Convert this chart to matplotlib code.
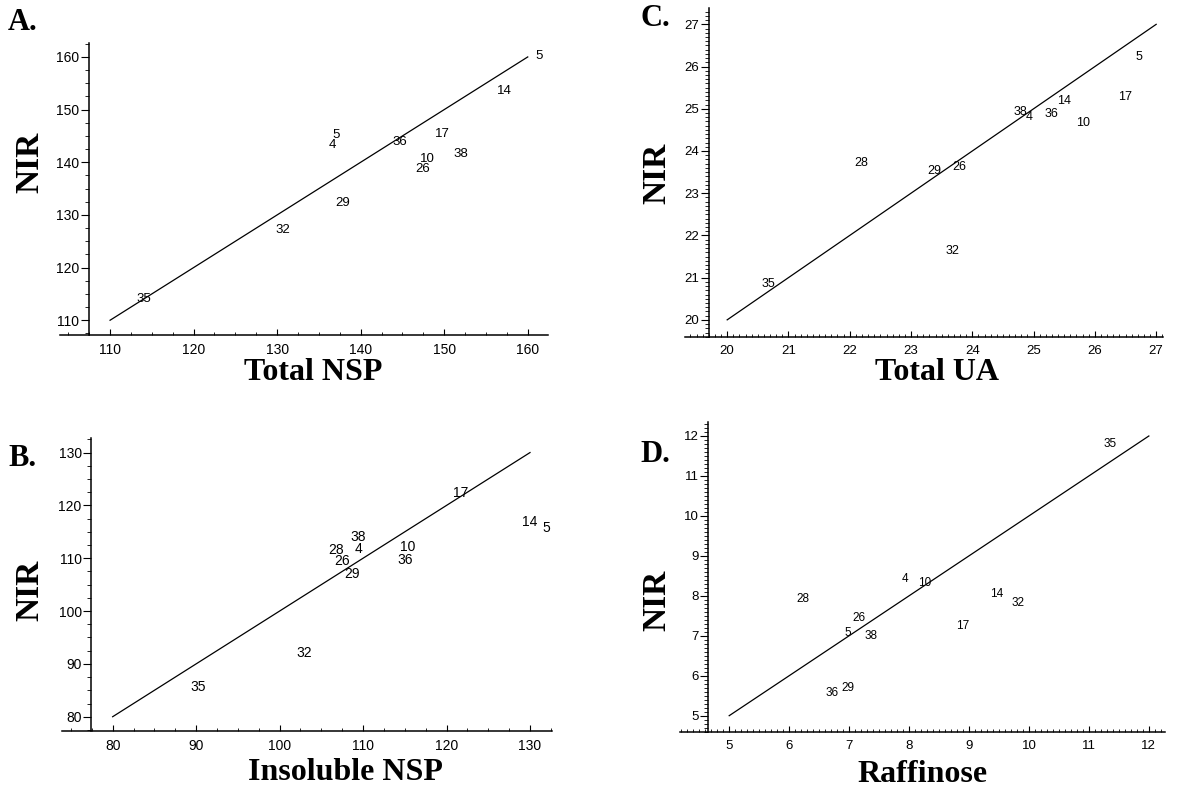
import matplotlib.pyplot as plt
from matplotlib.ticker import AutoMinorLocator, MultipleLocator

SERIF = ["Liberation Serif", "DejaVu Serif"]
SANS = ["Liberation Sans", "DejaVu Sans"]

# Panel A: Total NSP vs NIR
a_labels = ["5", "14", "5", "4", "36", "17", "38", "10", "26", "29", "32", "35"]
a_x = [161.4, 157.2, 137.0, 136.6, 144.7, 149.8, 152.0, 148.0, 147.4, 137.9, 130.7, 114.0]
a_y = [160.2, 153.5, 145.1, 143.2, 143.9, 145.4, 141.6, 140.7, 138.8, 132.2, 127.1, 114.0]

# Panel B: Insoluble NSP vs NIR
b_labels = ["17", "14", "5", "38", "4", "28", "26", "29", "10", "36", "32", "35"]
b_x = [121.7, 130.0, 132.0, 109.4, 109.4, 106.8, 107.5, 108.7, 115.4, 115.0, 103.0, 90.3]
b_y = [122.3, 116.9, 115.7, 114.0, 111.7, 111.6, 109.4, 107.1, 112.1, 109.7, 92.0, 85.7]

# Panel C: Total UA vs NIR
c_labels = ["5", "17", "14", "38", "4", "36", "10", "28", "29", "26", "32", "35"]
c_x = [26.72, 26.49, 25.49, 24.78, 24.93, 25.29, 25.80, 22.18, 23.38, 23.78, 23.68, 20.68]
c_y = [26.22, 25.29, 25.19, 24.92, 24.80, 24.87, 24.66, 23.72, 23.52, 23.61, 21.63, 20.84]

# Panel D: Raffinose vs NIR
d_labels = ["35", "4", "10", "28", "14", "32", "26", "5", "38", "17", "36", "29"]
d_x = [11.35, 7.93, 8.26, 6.23, 9.46, 9.82, 7.17, 6.98, 7.37, 8.90, 6.72, 6.98]
d_y = [11.80, 8.43, 8.31, 7.91, 8.04, 7.83, 7.44, 7.08, 7.00, 7.25, 5.58, 5.69]

PANELS = [
    # tag, xlabel, labels, x, y, line range, rect, xlim, ylim, spine x, major, minor div, tick size, label size
    ("A.", "Total NSP", a_labels, a_x, a_y, (110, 160),
     [0.0505, 0.5765, 0.411, 0.3695], (104.0, 162.4), (107.2, 162.7), 107.5, 10, 4, 10, 9.5),
    ("B.", "Insoluble NSP", b_labels, b_x, b_y, (80, 130),
     [0.052, 0.0762, 0.4128, 0.3697], (73.9, 132.6), (77.35, 132.7), 77.45, 10, 4, 10, 10),
    ("C.", "Total UA", c_labels, c_x, c_y, (20, 27),
     [0.577, 0.5743, 0.4027, 0.4152], (19.31, 27.11), (19.6, 27.38), 19.7, 1, 10, 9.5, 9),
    ("D.", "Raffinose", d_labels, d_x, d_y, (5, 12),
     [0.5729, 0.075, 0.4086, 0.392], (4.18, 12.27), (4.6, 12.36), 4.65, 1, 10, 9.5, 8.5),
]


def draw_panel(fig, spec):
    (tag, xlabel, labels, xs, ys, rng, rect, xlim, ylim,
     spine_x, major, minor, tick_fs, lab_fs) = spec
    ax = fig.add_axes(rect)
    ax.set_xlim(*xlim)
    ax.set_ylim(*ylim)
    ax.plot(rng, rng, color="black", lw=0.9)
    for lab, x, y in zip(labels, xs, ys):
        ax.text(x, y, lab, ha="center", va="center", fontsize=lab_fs,
                family=SANS, color="black")

    ax.spines["top"].set_visible(False)
    ax.spines["right"].set_visible(False)
    ax.spines["left"].set_position(("data", spine_x))
    for s in ("left", "bottom"):
        ax.spines[s].set_linewidth(1.1)

    ax.xaxis.set_major_locator(MultipleLocator(major))
    ax.yaxis.set_major_locator(MultipleLocator(major))
    ax.xaxis.set_minor_locator(AutoMinorLocator(minor))
    ax.yaxis.set_minor_locator(AutoMinorLocator(minor))
    ax.set_xticks([t for t in ax.get_xticks() if rng[0] <= t <= rng[1]])
    ax.set_yticks([t for t in ax.get_yticks() if rng[0] <= t <= rng[1]])
    ax.set_xlim(*xlim)
    ax.set_ylim(*ylim)

    ax.tick_params(axis="x", which="major", direction="in", length=4, width=0.8,
                   labelsize=tick_fs, pad=6)
    ax.tick_params(axis="x", which="minor", direction="in", length=2, width=0.6)
    ax.tick_params(axis="y", which="major", direction="out", length=6, width=0.8,
                   labelsize=tick_fs, pad=1)
    ax.tick_params(axis="y", which="minor", direction="out", length=3, width=0.6)
    for t in ax.get_xticklabels() + ax.get_yticklabels():
        t.set_family(SANS)
    return ax


fig = plt.figure(figsize=(11.87, 7.91), dpi=100)
axes = [draw_panel(fig, p) for p in PANELS]

title_kw = dict(family=SERIF, fontweight="bold", color="black")
# axis titles placed in figure pixels
fig.text(313 / 1187, 1 - 372 / 791, "Total NSP", ha="center", va="center", fontsize=23, **title_kw)
fig.text(345 / 1187, 1 - 772 / 791, "Insoluble NSP", ha="center", va="center", fontsize=23, **title_kw)
fig.text(937 / 1187, 1 - 373 / 791, "Total UA", ha="center", va="center", fontsize=23, **title_kw)
fig.text(923 / 1187, 1 - 775 / 791, "Raffinose", ha="center", va="center", fontsize=23, **title_kw)

fig.text(30 / 1187, 1 - 162 / 791, "NIR", ha="center", va="center", rotation=90, fontsize=24, **title_kw)
fig.text(30 / 1187, 1 - 590 / 791, "NIR", ha="center", va="center", rotation=90, fontsize=24, **title_kw)
fig.text(657 / 1187, 1 - 173 / 791, "NIR", ha="center", va="center", rotation=90, fontsize=24, **title_kw)
fig.text(657 / 1187, 1 - 600 / 791, "NIR", ha="center", va="center", rotation=90, fontsize=24, **title_kw)

fig.text(8 / 1187, 1 - 22 / 791, "A.", ha="left", va="center", fontsize=22, **title_kw)
fig.text(8 / 1187, 1 - 458 / 791, "B.", ha="left", va="center", fontsize=22, **title_kw)
fig.text(640 / 1187, 1 - 18 / 791, "C.", ha="left", va="center", fontsize=22, **title_kw)
fig.text(640 / 1187, 1 - 455 / 791, "D.", ha="left", va="center", fontsize=22, **title_kw)

fig.savefig("out.png", dpi=100)
